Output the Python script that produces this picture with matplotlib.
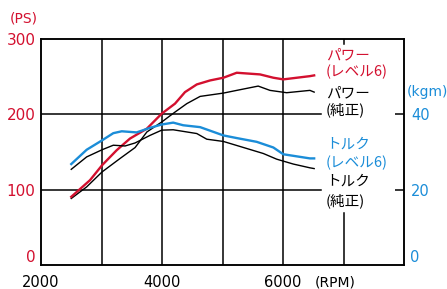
import matplotlib
matplotlib.use("Agg")
import matplotlib.pyplot as plt

RED = "#d3102f"
BLUE = "#1b8dd8"

# power (PS) vs rpm
rpm_pw6 = [2500, 2810, 3010, 3250, 3470, 3750, 3995, 4215, 4380, 4575, 4795, 5015, 5235, 5620, 5840, 6005, 6445, 6515]
pw_lv6 = [90.5, 112.6, 132.5, 152.3, 167.8, 181, 200.9, 214.2, 229.5, 239.7, 245, 248.6, 255.2, 253, 248.6, 246.4, 250.7, 251.7]

rpm_pw = [2500, 2755, 3010, 3305, 3555, 3750, 3995, 4215, 4410, 4630, 5015, 5235, 5590, 5785, 6060, 6445, 6515]
pw_std = [88.3, 103.7, 123.6, 141.3, 155.9, 176.6, 189.8, 203, 214.2, 223.8, 228.2, 231.8, 237.5, 231.8, 228.7, 231.8, 229.5]

# torque (kgm) vs rpm
rpm_tq6 = [2500, 2755, 3010, 3195, 3335, 3580, 3800, 3995, 4185, 4350, 4630, 5015, 5235, 5565, 5840, 6005, 6445, 6515]
tq_lv6 = [26.8, 30.6, 33.1, 35.0, 35.5, 35.2, 36.4, 37.3, 37.8, 37.1, 36.6, 34.4, 33.7, 32.7, 31.2, 29.4, 28.3, 28.3]

rpm_tq = [2500, 2755, 3010, 3195, 3390, 3555, 3800, 3995, 4185, 4575, 4740, 5015, 5345, 5675, 5895, 6170, 6445, 6515]
tq_std = [25.4, 28.7, 30.6, 31.8, 31.6, 32.4, 34.4, 35.8, 35.9, 34.9, 33.4, 32.8, 31.2, 29.6, 28.1, 26.8, 25.8, 25.6]

ps_ticks = [100, 200, 300]
kgm_ticks = [20, 40]
rpm_labels = [2000, 4000, 6000]

jp = ["Noto Sans CJK JP", "DejaVu Sans"]
plt.rcParams["font.family"] = jp

fig = plt.figure(figsize=(4.47, 2.89), dpi=100)
ax = fig.add_axes([41/447, 24/289, 363/447, 226/289])
ax2 = ax.twinx()

ax.set_xlim(2000, 8000)
ax.set_ylim(0, 300)
ax2.set_ylim(0, 60)

# grid
for x in [3000, 4000, 5000, 6000]:
    ax.axvline(x, color="black", lw=1.1, zorder=1)
ax.plot([7000, 7000], [0, 69], color="black", lw=1.1, zorder=1)
ax.plot([7000, 7000], [293, 300], color="black", lw=1.1, zorder=1)
for y in [100, 200]:
    ax.plot([2000, 6630], [y, y], color="black", lw=1.1, zorder=1)

ax.plot(rpm_pw, pw_std, color="black", lw=1.0, zorder=3)
ax.plot(rpm_pw6, pw_lv6, color=RED, lw=1.7, zorder=4)
ax2.plot(rpm_tq, tq_std, color="black", lw=1.0, zorder=3)
ax2.plot(rpm_tq6, tq_lv6, color=BLUE, lw=1.7, zorder=4)

for s in ax.spines.values():
    s.set_linewidth(1.1)
for s in ax2.spines.values():
    s.set_linewidth(1.1)

ax.set_xticks(rpm_labels)
ax.set_xticklabels([str(v) for v in rpm_labels], fontsize=10.5, family="DejaVu Sans")
ax.tick_params(axis="x", length=0, pad=7)
ax.set_yticks(ps_ticks)
ax.set_yticklabels([str(v) for v in ps_ticks], fontsize=11, color=RED, family="DejaVu Sans")
ax.tick_params(axis="y", length=0, pad=4)

ax2.set_yticks(kgm_ticks)
ax2.set_yticklabels([str(v) for v in kgm_ticks], fontsize=10.5, color=BLUE, family="DejaVu Sans")
ax2.tick_params(axis="y", direction="in", length=6.5, width=1.1, pad=5)

fig.text(36/447, 1 - 257/289, "0", color=RED, fontsize=11, ha="right", va="center", family="DejaVu Sans")
fig.text(410/447, 1 - 257/289, "0", color=BLUE, fontsize=10.5, ha="left", va="center", family="DejaVu Sans")
fig.text(24/447, 1 - 19/289, "(PS)", color=RED, fontsize=10, ha="center", va="center", family="DejaVu Sans")
fig.text(427/447, 1 - 92/289, "(kgm)", color=BLUE, fontsize=10, ha="center", va="center", family="DejaVu Sans")
fig.text(335/447, 1 - 282/289, "(RPM)", color="black", fontsize=10, ha="center", va="center", family="DejaVu Sans")

lx = 326/447
labels = [
    ("パワー", 55, RED), ("(レベル6)", 72, RED),
    ("パワー", 93, "black"), ("(純正)", 110, "black"),
    ("トルク", 145, BLUE), ("(レベル6)", 163, BLUE),
    ("トルク", 182, "black"), ("(純正)", 201, "black"),
]
for txt, y, c in labels:
    fig.text(lx, 1 - y/289, txt, color=c, fontsize=10.5, ha="left", va="center")

fig.savefig("out.png", dpi=100)
